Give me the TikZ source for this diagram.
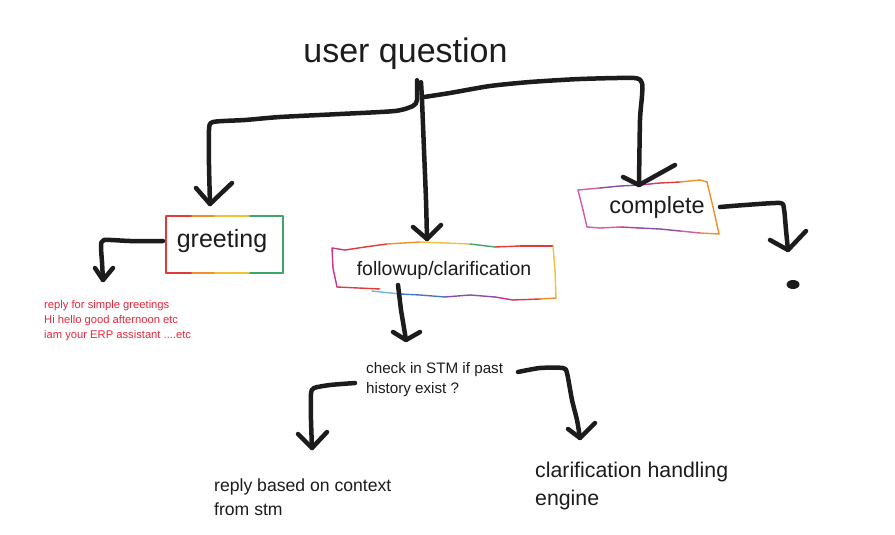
\documentclass[tikz,border=0pt]{standalone}
\usepackage{fontspec}
\setmainfont{Liberation Sans}
\usetikzlibrary{calc,positioning}

\definecolor{ink}{HTML}{1C1C1C}
\definecolor{noteRed}{HTML}{E8283C}
\definecolor{bMag}{HTML}{C8358F}
\definecolor{bRed}{HTML}{E03A3A}
\definecolor{bOra}{HTML}{F0902A}
\definecolor{bYel}{HTML}{EEC23A}
\definecolor{bGrn}{HTML}{3FA66A}
\definecolor{bBlu}{HTML}{4A78C0}
\definecolor{bLbl}{HTML}{70B8D8}
\definecolor{bPur}{HTML}{8A4FA8}
\definecolor{bPnk}{HTML}{D45AA8}

\tikzset{
  stroke/.style={line width=4.5pt, line cap=round, line join=round, draw=ink},
  rim/.style={line width=1.4pt, line cap=round},
  txt/.style={inner sep=0pt, text=ink},
  para/.style={inner sep=0pt, anchor=north west, align=left, text=ink}
}

\begin{document}
\begin{tikzpicture}[x=1pt,y=-1pt]
    \useasboundingbox[fill=white] (0,0) rectangle (895,535);

    % greeting box outline
    \draw[rim, draw=bRed] (166,216) -- (166,273);
    \draw[rim, draw=bGrn] (283,216) -- (283,273);
    \foreach \xa/\xb/\c in {166/192/bRed, 192/215/bOra, 215/250/bYel, 250/283/bGrn}
        \draw[rim, draw=\c] (\xa,216) -- (\xb,216) (\xa,273) -- (\xb,273);

    % followup box outline
    \foreach \xa/\ya/\xb/\yb/\c in {332/248/345/250/bMag, 345/250/365/247/bRed, 365/247/387/244/bRed,
        387/244/420/242/bOra, 420/242/445/243/bYel, 445/243/470/244/bYel, 470/244/495/247/bGrn,
        495/247/520/246/bRed, 520/246/553/246/bRed, 553/246/555/270/bYel, 555/270/556/298/bYel,
        556/298/540/299/bOra, 540/299/513/300/bRed, 513/300/495/297/bMag, 495/297/470/295/bPur,
        470/295/445/297/bPur, 445/297/420/295/bBlu, 420/295/400/294/bBlu, 400/294/372/291/bLbl,
        337/287/380/289/bRed, 337/287/333/268/bMag, 333/268/332/248/bMag}
        \draw[rim, draw=\c] (\xa,\ya) -- (\xb,\yb);

    % complete box outline
    \foreach \xa/\ya/\xb/\yb/\c in {578/190/600/188/bPnk, 600/188/620/186/bPur, 620/186/640/185/bPur,
        640/185/660/183/bMag, 660/183/680/182/bRed, 680/182/700/180/bOra, 700/180/707/182/bOra,
        707/182/713/207/bOra, 713/207/719/234/bOra, 719/234/700/233/bOra, 700/233/680/231/bPnk,
        680/231/660/229/bPur, 660/229/640/228/bPur, 640/228/620/227/bMag, 620/227/600/228/bPnk,
        600/228/587/227/bPnk, 587/227/583/210/bPnk, 583/210/578/190/bPnk}
        \draw[rim, draw=\c] (\xa,\ya) -- (\xb,\yb);

    % texts
    \node[txt, anchor=base, font=\fontsize{34}{40}\selectfont] (uq) at (405.5,63) {user question};
    \node[txt, anchor=base, font=\fontsize{25}{30}\selectfont] (greet) at (222,247) {greeting};
    \node[txt, anchor=base, font=\fontsize{19.5}{24}\selectfont] (follow) at (444,275) {followup/clarification};
    \node[txt, anchor=base, font=\fontsize{23.5}{28}\selectfont] (compl) at (657,213) {complete};
    \node[para, text=noteRed, font=\fontsize{11.2}{15}\selectfont] (note) at (44,300)
        {reply for simple greetings\\Hi hello good afternoon etc\\iam your ERP assistant ....etc};
    \node[para, font=\fontsize{15.2}{20}\selectfont] (chk) at (366,362.2)
        {check in STM if past\\history exist ?};
    \node[para, font=\fontsize{17.6}{23.5}\selectfont] (ctx) at (214,478.9)
        {reply based on context\\from stm};
    \node[para, font=\fontsize{21.3}{28}\selectfont] (eng) at (535,461.5)
        {clarification handling\\engine};

    % hand drawn connectors
    \coordinate (s1) at ($(uq.south)+(11.5,10)$);
    \coordinate (s2) at ($(uq.south)+(15.5,12)$);
    \coordinate (s3) at (424,97);
    \coordinate (t1) at (210,204);
    \coordinate (t2) at (427,239);
    \coordinate (t3) at (639,185);
    \draw[stroke] plot[smooth, tension=0.4] coordinates {(s1) (417,100) (413,106) (395,111) (340,114)
        (280,117) (245,120) (213,122) (209,130) (209,165) (t1)};
    \draw[stroke] (196,188) -- (t1) -- (232,183);
    \draw[stroke] plot[smooth, tension=0.4] coordinates {(s2) (422,100) (424,150) (426,200) (t2)};
    \draw[stroke] (413,227) -- (t2) -- (441,225);
    \draw[stroke] plot[smooth, tension=0.4] coordinates {(s3) (450,93) (490,86) (530,82) (580,79)
        (634,78) (642,83) (642,96) (640,120) (t3)};
    \draw[stroke] (623,177) -- (t3) -- (675,165);

    \coordinate (s4) at (163,241);
    \coordinate (t4) at (103,280);
    \draw[stroke] plot[smooth, tension=0.4] coordinates {(s4) (130,241) (104,240)
        (101,246) (102,262) (t4)};
    \draw[stroke] (95,268) -- (t4) -- (113,268);

    \coordinate (t5) at (406,340);
    \draw[stroke] (398,285) -- (401,310) -- (t5);
    \draw[stroke] (393,332) -- (t5) -- (420,332);

    \coordinate (t6) at (312,448);
    \draw[stroke] plot[smooth, tension=0.4] coordinates {(355,383) (330,385) (314,388) (311,394)
        (311,420) (t6)};
    \draw[stroke] (298,434) -- (t6) -- (327,432);

    \coordinate (t7) at (580,438);
    \draw[stroke] plot[smooth, tension=0.4] coordinates {(518,372) (540,368) (563,368) (567,373)
        (572,400) (577,420) (t7)};
    \draw[stroke] (568,429) -- (t7) -- (595,423);

    \coordinate (t8) at (788,250);
    \draw[stroke] plot[smooth, tension=0.4] coordinates {(720,207) (745,205) (780,203) (784,209)
        (786,230) (t8)};
    \draw[stroke] (770,240) -- (t8) -- (806,231);
    \fill[ink] (793,284.5) ellipse (6.5 and 4.5);
\end{tikzpicture}
\end{document}
